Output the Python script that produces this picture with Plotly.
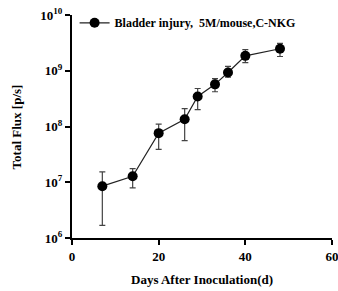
import plotly.graph_objects as go

days = [7, 14, 20, 26, 29, 33, 36, 40, 48]
flux = [8.5e6, 1.28e7, 7.6e7, 1.35e8, 3.45e8, 5.7e8, 9.3e8, 1.85e9, 2.48e9]
err_upper = [1.53e7, 1.76e7, 1.1e8, 2.1e8, 4.8e8, 7.2e8, 1.2e9, 2.4e9, 3.1e9]
err_lower = [1.69e6, 7.9e6, 3.9e7, 5.6e7, 2.0e8, 4.2e8, 7.7e8, 1.4e9, 1.8e9]
series_name = "Bladder injury,  5M/mouse,C-NKG"
x_ticks = [0, 20, 40, 60]
y_tickvals = [1e6, 1e7, 1e8, 1e9, 1e10]
y_ticktext = ["10<sup>6</sup>", "10<sup>7</sup>", "10<sup>8</sup>", "10<sup>9</sup>", "10<sup>10</sup>"]

plus = [u - f for u, f in zip(err_upper, flux)]
minus = [f - l for f, l in zip(flux, err_lower)]

font = "Liberation Serif"

fig = go.Figure()
fig.add_trace(go.Scatter(
    x=days, y=flux, mode="lines+markers", name=series_name,
    line=dict(color="#222222", width=1.2),
    marker=dict(symbol="circle", size=10, color="black"),
    error_y=dict(type="data", symmetric=False, array=plus, arrayminus=minus,
                 color="#444444", thickness=1.2, width=3),
    cliponaxis=False,
))

fig.update_layout(
    width=338, height=291,
    margin=dict(l=72, r=6, t=15, b=53, autoexpand=False),
    paper_bgcolor="white", plot_bgcolor="white",
    font=dict(family=font, color="black", size=12),
    showlegend=True,
    legend=dict(x=0.01, y=1.03, xanchor="left", yanchor="top",
                bgcolor="rgba(0,0,0,0)",
                font=dict(family=font, size=12, color="black", weight="bold")),
    xaxis=dict(
        range=[0, 60], tickvals=x_ticks, showgrid=False, zeroline=False,
        showline=True, linecolor="black", linewidth=2, automargin=False,
        ticks="outside", ticklen=5, tickwidth=2, tickcolor="black",
        ticklabeloverflow="allow",
        tickfont=dict(family=font, size=13, weight="bold"),
    ),
    yaxis=dict(
        type="log", range=[6, 10], tickvals=y_tickvals, ticktext=y_ticktext,
        showgrid=False, zeroline=False, automargin=False,
        showline=True, linecolor="black", linewidth=2,
        ticks="outside", ticklen=5, tickwidth=2, tickcolor="black",
        ticklabeloverflow="allow",
        tickfont=dict(family=font, size=13, weight="bold"),
    ),
    annotations=[
        dict(text="Days After Inoculation(d)", xref="paper", yref="paper",
             x=0.5, y=-0.188, xanchor="center", yanchor="middle", showarrow=False,
             font=dict(family=font, size=13, weight="bold")),
        dict(text="Total Flux [p/s]", xref="paper", yref="paper",
             x=-0.212, y=0.5, xanchor="center", yanchor="middle", showarrow=False,
             textangle=-90, font=dict(family=font, size=13, weight="bold")),
    ],
)

fig.write_html("out.html", config={"displayModeBar": False},
               post_script="document.body.style.margin='0';")
